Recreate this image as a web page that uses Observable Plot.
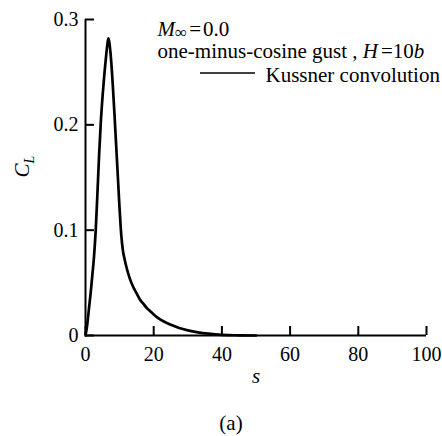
<!DOCTYPE html>
<html>
<head>
<meta charset="utf-8">
<script src="https://cdn.jsdelivr.net/npm/d3@7"></script>
<script src="https://cdn.jsdelivr.net/npm/@observablehq/plot@0.6"></script>
<style>
  html, body { margin: 0; padding: 0; background: white; }
  #chart svg, #chart svg text { font-family: "Liberation Serif", "Times New Roman", serif !important; }
</style>
</head>
<body>
<div id="chart"></div>
<script>
// Data
const sValues  = [0, 0.5, 1, 1.5, 2, 2.5, 3, 3.5, 4, 4.5, 5, 5.5, 6, 6.4, 6.7, 7, 7.5, 8, 8.5, 9, 9.5, 10, 10.5, 11, 11.5, 12, 13, 14, 15, 16, 17, 18, 19, 20, 22, 24, 26, 28, 30, 33, 36, 40, 45, 50];
const clValues = [0, 0.01, 0.025, 0.04, 0.057, 0.075, 0.1, 0.135, 0.172, 0.203, 0.227, 0.247, 0.264, 0.276, 0.282, 0.278, 0.262, 0.238, 0.21, 0.18, 0.15, 0.12, 0.095, 0.08, 0.072, 0.065, 0.054, 0.046, 0.040, 0.034, 0.030, 0.026, 0.023, 0.020, 0.015, 0.0117, 0.009, 0.0066, 0.0049, 0.003, 0.0017, 0.0006, 0.0002, 0];
const xTicks = [0, 20, 40, 60, 80, 100];
const yTicks = [0, 0.1, 0.2, 0.3];
const xLabel = "s";
const yLabel = "C_L";
const machLine = "M∞=0.0";
const gustLine = "one-minus-cosine gust , H=10b";
const seriesName = "Kussner convolution";
const panelTag = "(a)";

const data = sValues.map((s, i) => ({s, cl: clValues[i]}));

const serif = "'Liberation Serif', 'Times New Roman', serif";

const swatch = (index, scales, values, dims) => {
  const ns = "http://www.w3.org/2000/svg";
  const l = document.createElementNS(ns, "line");
  l.setAttribute("x1", dims.marginLeft + 115);
  l.setAttribute("x2", dims.marginLeft + 170);
  l.setAttribute("y1", dims.marginTop + 54);
  l.setAttribute("y2", dims.marginTop + 54);
  l.setAttribute("stroke", "black");
  l.setAttribute("stroke-width", 1.6);
  return l;
};

const plot = Plot.plot({
  width: 442,
  height: 436,
  marginLeft: 85,
  marginRight: 16,
  marginTop: 19,
  marginBottom: 101,
  x: {domain: [0, 100]},
  y: {domain: [0, 0.3]},
  style: {fontFamily: serif, fontSize: "20px", background: "white", color: "black", overflow: "visible"},
  marks: [
    Plot.axisX({ticks: xTicks, tickSize: 0, tickPadding: 11, tickFormat: d => String(d), label: null}),
    Plot.axisX({ticks: xTicks, tickSize: -9, strokeWidth: 2, tickFormat: () => "", label: null}),
    Plot.axisY({ticks: yTicks, tickSize: 0, tickPadding: 7, tickFormat: d => d === 0 ? "0" : d.toFixed(1), label: null}),
    Plot.axisY({ticks: yTicks, tickSize: -9, strokeWidth: 2, tickFormat: () => "", label: null}),
    Plot.ruleX([0], {strokeWidth: 2}),
    Plot.ruleY([0], {strokeWidth: 2}),
    Plot.line(data, {x: "s", y: "cl", stroke: "black", strokeWidth: 2.7, curve: "monotone-x"}),
    Plot.text([machLine], {frameAnchor: "top-left", dx: 72, dy: 16, textAnchor: "start", lineAnchor: "bottom", fontSize: 21}),
    Plot.text([gustLine], {frameAnchor: "top-left", dx: 72, dy: 38, textAnchor: "start", lineAnchor: "bottom", fontSize: 21}),
    Plot.text([seriesName], {frameAnchor: "top-left", dx: 180, dy: 62, textAnchor: "start", lineAnchor: "bottom", fontSize: 21}),
    swatch,
    Plot.text([xLabel], {frameAnchor: "bottom", dy: 47, lineAnchor: "bottom", fontSize: 21, fontStyle: "italic"}),
    Plot.text([panelTag], {frameAnchor: "bottom", dx: -25, dy: 94, lineAnchor: "bottom", fontSize: 21}),
    Plot.text([yLabel], {frameAnchor: "left", dx: -63, rotate: -90, fontSize: 21})
  ]
});

// Rich formatting (italics, subscripts) for annotation texts
const ns = "http://www.w3.org/2000/svg";
function setParts(textEl, parts) {
  while (textEl.firstChild) textEl.removeChild(textEl.firstChild);
  for (const p of parts) {
    const t = document.createElementNS(ns, "tspan");
    t.textContent = p.t;
    if (p.italic) t.setAttribute("font-style", "italic");
    if (p.size) t.setAttribute("font-size", p.size);
    if (p.dy) t.setAttribute("dy", p.dy);
    if (p.dx) t.setAttribute("dx", p.dx);
    textEl.appendChild(t);
  }
}
plot.querySelectorAll("text").forEach(el => {
  const c = el.textContent;
  if (c === machLine) {
    setParts(el, [
      {t: "M", italic: true},
      {t: "∞", size: 17, dy: 2},
      {t: "=", dy: -2, dx: 2},
      {t: "0.0", dx: 2}
    ]);
  } else if (c === gustLine) {
    setParts(el, [
      {t: "one-minus-cosine gust , "},
      {t: "H", italic: true},
      {t: "=10", dx: 3},
      {t: "b", italic: true}
    ]);
  } else if (c === yLabel) {
    setParts(el, [
      {t: "C", italic: true},
      {t: "L", italic: true, size: 14, dy: 5}
    ]);
  }
});

document.getElementById("chart").appendChild(plot);
</script>
</body>
</html>
